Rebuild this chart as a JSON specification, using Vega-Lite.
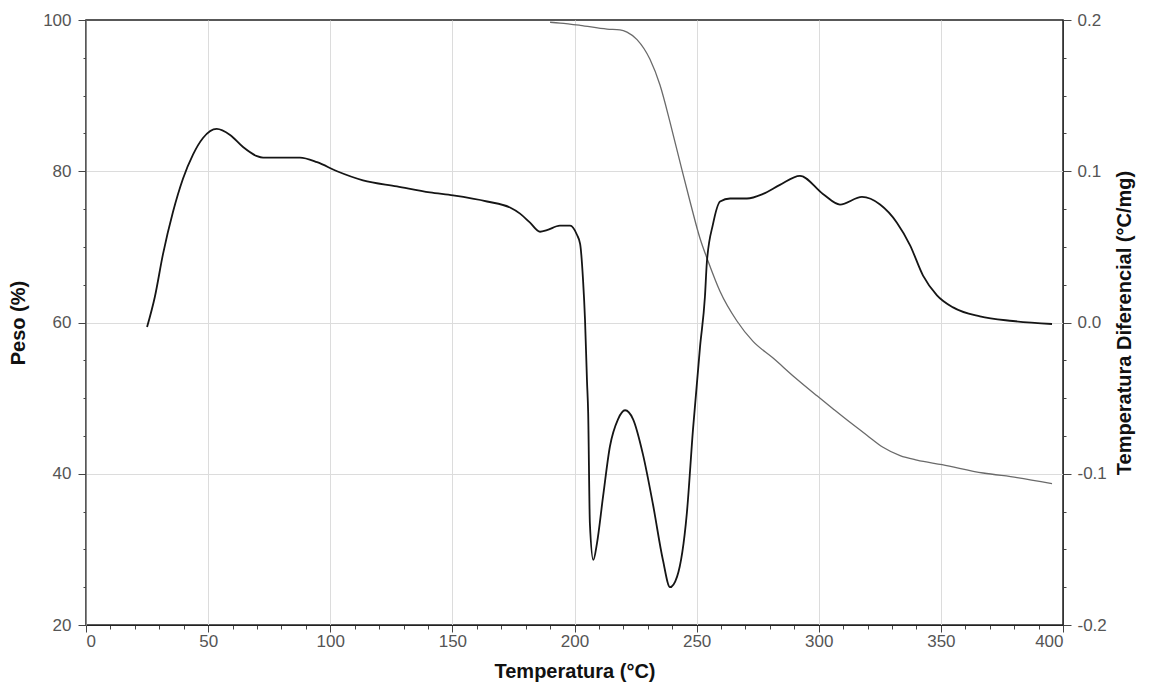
{
  "$schema": "https://vega.github.io/schema/vega-lite/v6.json",
  "width": 977,
  "height": 605,
  "autosize": {"type": "none"},
  "padding": {"left": 86, "top": 20, "right": 88, "bottom": 60},
  "background": "white",
  "config": {
    "view": {"stroke": "#222", "strokeWidth": 1.5},
    "axis": {
      "labelFont": "Liberation Sans",
      "titleFont": "Liberation Sans",
      "labelColor": "#555",
      "labelFontSize": 17,
      "titleFontSize": 20,
      "titleFontWeight": "bold",
      "titleColor": "#111",
      "domainColor": "#444",
      "tickColor": "#444",
      "gridColor": "#dcdcdc"
    }
  },
  "datasets": {
    "tg": [
      {"T": 190, "P": 99.7}, {"T": 194.1, "P": 99.6}, {"T": 202.3, "P": 99.3}, {"T": 213.3, "P": 98.8},
      {"T": 218.6, "P": 98.7}, {"T": 221.5, "P": 98.4}, {"T": 225.6, "P": 97.4}, {"T": 230.9, "P": 94.8},
      {"T": 235, "P": 91.4}, {"T": 239.1, "P": 86.5}, {"T": 243.2, "P": 81.2}, {"T": 247.3, "P": 76.0},
      {"T": 251.4, "P": 71.1}, {"T": 254.7, "P": 68.1}, {"T": 259.6, "P": 64.1}, {"T": 266.5, "P": 60.2},
      {"T": 273.1, "P": 57.5}, {"T": 281.3, "P": 55.3}, {"T": 290, "P": 52.8}, {"T": 299.3, "P": 50.3},
      {"T": 305.8, "P": 48.6}, {"T": 312.8, "P": 46.8}, {"T": 319.7, "P": 45.1}, {"T": 326.3, "P": 43.5},
      {"T": 333.3, "P": 42.4}, {"T": 340.2, "P": 41.8}, {"T": 350.5, "P": 41.2}, {"T": 367.3, "P": 40.1},
      {"T": 381.2, "P": 39.5}, {"T": 395.5, "P": 38.7}
    ],
    "dta": [
      {"T": 25, "D": -0.003}, {"T": 28.2, "D": 0.017}, {"T": 31.5, "D": 0.045}, {"T": 35.6, "D": 0.073},
      {"T": 39.7, "D": 0.095}, {"T": 43.8, "D": 0.111}, {"T": 47.9, "D": 0.122}, {"T": 53.5, "D": 0.128},
      {"T": 59, "D": 0.124}, {"T": 64.3, "D": 0.116}, {"T": 70, "D": 0.110}, {"T": 72.5, "D": 0.109},
      {"T": 87.6, "D": 0.109}, {"T": 94.6, "D": 0.106}, {"T": 102.8, "D": 0.100}, {"T": 113.4, "D": 0.094},
      {"T": 127.3, "D": 0.090}, {"T": 140.8, "D": 0.086}, {"T": 150.3, "D": 0.084}, {"T": 164.2, "D": 0.080},
      {"T": 173.6, "D": 0.076}, {"T": 177.7, "D": 0.072}, {"T": 181.8, "D": 0.066}, {"T": 185.9, "D": 0.060},
      {"T": 188.7, "D": 0.061}, {"T": 194, "D": 0.064}, {"T": 198.2, "D": 0.064}, {"T": 201, "D": 0.058},
      {"T": 202.3, "D": 0.052}, {"T": 203.5, "D": 0.028}, {"T": 204.3, "D": 0.002}, {"T": 205.1, "D": -0.038},
      {"T": 205.6, "D": -0.060}, {"T": 206.3, "D": -0.133}, {"T": 207.7, "D": -0.157}, {"T": 209.2, "D": -0.146},
      {"T": 211.7, "D": -0.115}, {"T": 214.5, "D": -0.082}, {"T": 217.8, "D": -0.064}, {"T": 220.7, "D": -0.058},
      {"T": 224, "D": -0.064}, {"T": 228, "D": -0.087}, {"T": 232.1, "D": -0.120}, {"T": 236.2, "D": -0.157},
      {"T": 239.1, "D": -0.175}, {"T": 242, "D": -0.168}, {"T": 246, "D": -0.126}, {"T": 248.5, "D": -0.071},
      {"T": 251.4, "D": -0.016}, {"T": 253.4, "D": 0.017}, {"T": 254.2, "D": 0.040}, {"T": 256.7, "D": 0.065},
      {"T": 259.6, "D": 0.080}, {"T": 263.7, "D": 0.082}, {"T": 270.6, "D": 0.082}, {"T": 277.2, "D": 0.085},
      {"T": 284.1, "D": 0.091}, {"T": 292.3, "D": 0.097}, {"T": 301.7, "D": 0.085}, {"T": 308.7, "D": 0.078},
      {"T": 317.7, "D": 0.083}, {"T": 325.1, "D": 0.078}, {"T": 332, "D": 0.066}, {"T": 337.4, "D": 0.051},
      {"T": 342.7, "D": 0.031}, {"T": 348.4, "D": 0.018}, {"T": 355, "D": 0.010}, {"T": 366, "D": 0.004},
      {"T": 379.5, "D": 0.001}, {"T": 395.5, "D": -0.001}
    ]
  },
  "encoding": {
    "x": {
      "field": "T", "type": "quantitative",
      "scale": {"domain": [0, 400], "nice": false},
      "axis": {
        "title": "Temperatura (°C)",
        "values": [0,10,20,30,40,50,60,70,80,90,100,110,120,130,140,150,160,170,180,190,200,210,220,230,240,250,260,270,280,290,300,310,320,330,340,350,360,370,380,390,400],
        "labelExpr": "datum.value % 50 === 0 ? datum.label : ''",
        "labelOverlap": false,
        "tickSize": {"condition": {"test": "datum.value % 50 === 0", "value": 7}, "value": 4},
        "grid": true,
        "gridOpacity": {"condition": {"test": "datum.value % 50 === 0 && datum.value > 0 && datum.value < 400", "value": 1}, "value": 0},
        "domainColor": "#222",
        "labelPadding": 1,
        "titlePadding": 12
      }
    }
  },
  "layer": [
    {
      "data": {"name": "tg"},
      "mark": {"type": "line", "color": "#6a6a6a", "strokeWidth": 1.3, "interpolate": "monotone"},
      "encoding": {
        "y": {
          "field": "P", "type": "quantitative",
          "scale": {"domain": [20, 100], "nice": false},
          "axis": {
            "title": "Peso (%)",
            "values": [20,25,30,35,40,45,50,55,60,65,70,75,80,85,90,95,100],
            "labelExpr": "datum.value % 20 === 0 ? datum.label : ''",
            "labelOverlap": false,
            "tickSize": {"condition": {"test": "datum.value % 20 === 0", "value": 8}, "value": 3},
            "grid": true,
            "gridOpacity": {"condition": {"test": "datum.value % 20 === 0 && datum.value > 20 && datum.value < 100", "value": 1}, "value": 0},
            "domainColor": "#888",
            "labelPadding": 7,
            "titlePadding": 14
          }
        }
      }
    },
    {
      "data": {"name": "dta"},
      "mark": {"type": "line", "color": "#151515", "strokeWidth": 1.8, "interpolate": "monotone"},
      "encoding": {
        "y": {
          "field": "D", "type": "quantitative",
          "scale": {"domain": [-0.2, 0.2], "nice": false},
          "axis": {
            "orient": "right",
            "title": "Temperatura Diferencial (°C/mg)",
            "titleAngle": 270,
            "values": [-0.2,-0.175,-0.15,-0.125,-0.1,-0.075,-0.05,-0.025,0,0.025,0.05,0.075,0.1,0.125,0.15,0.175,0.2],
            "format": ".1f",
            "labelExpr": "abs(datum.value * 10 - round(datum.value * 10)) < 0.001 ? replace(datum.label, '\u2212', '-') : ''",
            "labelOverlap": false,
            "tickSize": {"condition": {"test": "abs(datum.value * 10 - round(datum.value * 10)) < 0.001", "value": 8}, "value": 3},
            "grid": false,
            "domainColor": "#333",
            "labelPadding": 6,
            "titlePadding": 28
          }
        }
      }
    }
  ],
  "resolve": {"scale": {"y": "independent"}}
}
